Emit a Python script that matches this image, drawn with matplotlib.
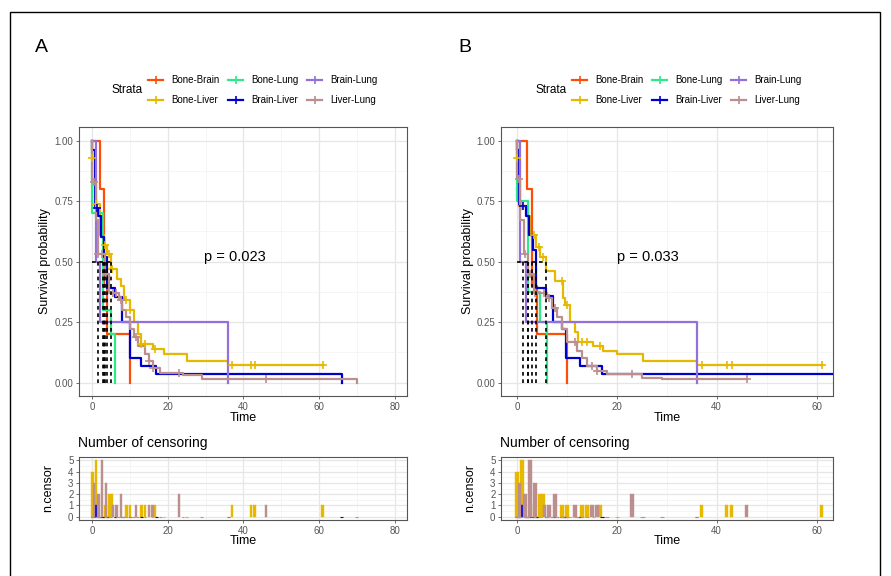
import matplotlib
matplotlib.use("Agg")
import matplotlib.pyplot as plt
from matplotlib.lines import Line2D
from matplotlib.patches import Rectangle
from matplotlib.ticker import MultipleLocator

plt.rcParams['font.family'] = ['Liberation Sans', 'DejaVu Sans']

W, H = 891, 576

strata = ["Bone-Brain", "Bone-Liver", "Bone-Lung", "Brain-Liver", "Brain-Lung", "Liver-Lung"]
colors = ["#FC4E07", "#E7B800", "#2EE88A", "#0000CD", "#9370DB", "#BC8F8F"]

# ---- panel A: KM step times and survival after each step ----
a_bone_brain_t = [2, 3, 4, 10]
a_bone_brain_s = [0.80, 0.40, 0.20, 0.00]
a_bone_liver_t = [0, 1, 2, 3, 4, 5, 6.5, 7.5, 8.5, 10, 11, 12, 13, 16, 19, 25, 36]
a_bone_liver_s = [0.93, 0.74, 0.61, 0.57, 0.53, 0.47, 0.43, 0.40, 0.34, 0.30, 0.25, 0.20,
                  0.16, 0.14, 0.12, 0.09, 0.075]
a_bone_lung_t = [0, 2.8, 5, 6]
a_bone_lung_s = [0.70, 0.30, 0.20, 0.00]
a_brain_liver_t = [0, 0.7, 1.5, 2.3, 3, 4, 6, 8, 10, 13, 17, 66]
a_brain_liver_s = [0.96, 0.72, 0.69, 0.60, 0.52, 0.39, 0.355, 0.25, 0.10, 0.07, 0.035, 0.00]
a_brain_lung_t = [1, 2, 36]
a_brain_lung_s = [0.50, 0.25, 0.00]
a_liver_lung_t = [0, 1, 1.5, 3.5, 4.5, 7, 8, 9, 10, 11, 12, 14, 15, 16, 18, 24, 29, 70]
a_liver_lung_s = [0.83, 0.67, 0.53, 0.45, 0.37, 0.34, 0.30, 0.27, 0.22, 0.19, 0.15, 0.12,
                  0.09, 0.06, 0.04, 0.03, 0.015, 0.00]
a_end = [10, 61, 6, 66, 36, 70]

# ---- panel B ----
b_bone_brain_t = [2, 3, 4, 10]
b_bone_brain_s = [0.80, 0.40, 0.20, 0.00]
b_bone_liver_t = [0, 0.6, 2.1, 2.6, 3.9, 4.6, 5.9, 7.6, 9.2, 9.6, 10.6, 11.6, 12.3, 15.3,
                  17.3, 20, 25.3, 36]
b_bone_liver_s = [0.93, 0.73, 0.69, 0.61, 0.56, 0.52, 0.46, 0.42, 0.35, 0.32, 0.25, 0.21,
                  0.17, 0.15, 0.13, 0.12, 0.09, 0.075]
b_bone_lung_t = [0, 2.3, 4.6, 6]
b_bone_lung_s = [0.75, 0.375, 0.25, 0.00]
b_brain_liver_t = [0, 0.4, 1.8, 2.5, 3.3, 3.9, 5.9, 7.2, 9, 9.8, 12.6, 17, 66]
b_brain_liver_s = [0.96, 0.73, 0.69, 0.61, 0.55, 0.39, 0.36, 0.25, 0.22, 0.10, 0.07, 0.035, 0.00]
b_brain_lung_t = [0.6, 1.8, 36]
b_brain_lung_s = [0.50, 0.25, 0.00]
b_liver_lung_t = [0, 0.6, 1.5, 2.2, 3.5, 6, 7, 8, 9, 10, 12, 13, 14, 16, 18, 25, 29]
b_liver_lung_s = [0.84, 0.67, 0.53, 0.45, 0.37, 0.35, 0.31, 0.27, 0.22, 0.17, 0.13, 0.10,
                  0.07, 0.05, 0.035, 0.02, 0.015]
b_end = [10, 61, 6, 66, 36, 46]

# ---- censoring times and counts (shared) ----
bone_liver_cens_t = [0, 1, 3.5, 4.5, 5.2, 9, 10, 13, 14, 16.6, 37, 42, 43, 61]
bone_liver_cens_n = [4, 5, 1, 2, 2, 1, 1, 1, 1, 1, 1, 1, 1, 1]
brain_liver_cens_t = [1.2]
brain_liver_cens_n = [1]
liver_lung_cens_t = [0.5, 1.6, 2.6, 3.6, 5.5, 6.4, 7.6, 11.6, 15, 16, 23, 46]
liver_lung_cens_n = [3, 2, 5, 3, 1, 1, 2, 1, 1, 1, 2, 1]

p_a = "p = 0.023"
p_b = "p = 0.033"


def fx(px):
    return px / W


def fy(py):
    return 1 - py / H


def s_at(ts, ss, t):
    v = 1.0
    for ti, si in zip(ts, ss):
        if ti <= t:
            v = si
    return v


def median_time(ts, ss):
    for i, (ti, si) in enumerate(zip(ts, ss)):
        if abs(si - 0.5) < 1e-9:
            return (ti + ts[i + 1]) / 2
        if si < 0.5:
            return ti
    return None


def style_axes(ax, xmax_tick):
    ax.set_facecolor("white")
    for sp in ax.spines.values():
        sp.set_color("#555555")
        sp.set_linewidth(0.8)
    ax.xaxis.set_major_locator(MultipleLocator(20))
    ax.xaxis.set_minor_locator(MultipleLocator(10))
    ax.grid(which="major", color="#E6E6E6", lw=0.9)
    ax.grid(which="minor", color="#F2F2F2", lw=0.5)
    ax.set_axisbelow(True)
    ax.tick_params(which="major", labelsize=7, colors="#555555", length=2.5, width=0.6, pad=1.5)
    ax.tick_params(which="minor", length=0)
    ax.set_xticks(range(0, xmax_tick + 1, 20))


cens = {1: (bone_liver_cens_t, bone_liver_cens_n),
        3: (brain_liver_cens_t, brain_liver_cens_n),
        5: (liver_lung_cens_t, liver_lung_cens_n)}

fig = plt.figure(figsize=(W / 100, H / 100), dpi=100)


def draw_panel(x0, letter, curves, ends, pval, xlim, xmax_tick, pval_x, left, right):
    ax = fig.add_axes([fx(left), fy(396), (right - left) / W, (396 - 127) / H])
    style_axes(ax, xmax_tick)
    ax.yaxis.set_major_locator(MultipleLocator(0.25))
    ax.yaxis.set_minor_locator(MultipleLocator(0.125))
    ax.set_yticks([0, 0.25, 0.5, 0.75, 1.0])
    ax.set_yticklabels(["0.00", "0.25", "0.50", "0.75", "1.00"])
    ax.set_xlim(*xlim)
    ax.set_ylim(-0.055, 1.056)

    meds = []
    for i, (ts, ss) in enumerate(curves):
        x = [0] + list(ts) + [ends[i]]
        y = [1.0] + list(ss) + [ss[-1]]
        ax.step(x, y, where="post", color=colors[i], lw=1.6, zorder=3)
        if i in cens:
            ct = [t for t in cens[i][0] if t <= ends[i]]
            ax.plot(ct, [s_at(ts, ss, t) for t in ct], ls="none", marker="+",
                    ms=6, mew=1.2, color=colors[i], zorder=4)
        m = median_time(ts, ss)
        if m is not None:
            meds.append(m)
    ax.plot([0, max(meds)], [0.5, 0.5], color="black", lw=1.2, dashes=(2.2, 2.2), zorder=5)
    for m in meds:
        ax.plot([m, m], [0, 0.5], color="black", lw=1.2, dashes=(2.2, 2.2), zorder=5)
    ax.text(pval_x, 0.52, pval, fontsize=10.5, va="center", ha="left")

    # censor counts
    cx = fig.add_axes([fx(left), fy(520), (right - left) / W, 63 / H])
    style_axes(cx, xmax_tick)
    cx.yaxis.set_major_locator(MultipleLocator(1))
    cx.yaxis.set_minor_locator(MultipleLocator(0.5))
    cx.set_xlim(*xlim)
    cx.set_ylim(-0.3, 5.3)
    for i, (ts, ss) in enumerate(curves):
        ct, cn = cens.get(i, ([], []))
        zero_t = [t for t in ts if t not in ct and t <= ends[i]]
        cx.bar(zero_t, [0] * len(zero_t), width=0.7, color=colors[i],
               edgecolor=colors[i], lw=0.8, zorder=3)
        cx.bar(ct, cn, width=0.7, color=colors[i], edgecolor=colors[i], lw=0.3, zorder=3)

    # text around the panel
    fig.text(fx(x0 + 41), fy(48), letter, fontsize=14, ha="center", va="center")
    fig.text(fx(left - 34 + (x0 > 0) * 1), fy(261), "Survival probability", fontsize=9,
             rotation=90, ha="center", va="center")
    fig.text(fx((left + right) / 2), fy(418), "Time", fontsize=9, ha="center", va="center")
    fig.text(fx(left - 1), fy(443), "Number of censoring", fontsize=10, ha="left", va="center")
    fig.text(fx(left - 31), fy(488), "n.censor", fontsize=9, rotation=90,
             ha="center", va="center")
    fig.text(fx((left + right) / 2), fy(541), "Time", fontsize=9, ha="center", va="center")

    # legend
    fig.text(fx(x0 + 111), fy(90), "Strata", fontsize=8.5, ha="left", va="center")
    cols = [148, 228, 307]
    rows = [80, 100]
    for i, name in enumerate(strata):
        lx = x0 + cols[i // 2]
        ly = rows[i % 2]
        fig.add_artist(Line2D([fx(lx), fx(lx + 15)], [fy(ly), fy(ly)], color=colors[i],
                              lw=1.6, transform=fig.transFigure))
        fig.add_artist(Line2D([fx(lx + 7.5)], [fy(ly)], marker="+", ms=6, mew=1.2,
                              color=colors[i], transform=fig.transFigure))
        fig.text(fx(lx + 23), fy(ly), name, fontsize=7, ha="left", va="center")


curves_a = [(a_bone_brain_t, a_bone_brain_s), (a_bone_liver_t, a_bone_liver_s),
            (a_bone_lung_t, a_bone_lung_s), (a_brain_liver_t, a_brain_liver_s),
            (a_brain_lung_t, a_brain_lung_s), (a_liver_lung_t, a_liver_lung_s)]
curves_b = [(b_bone_brain_t, b_bone_brain_s), (b_bone_liver_t, b_bone_liver_s),
            (b_bone_lung_t, b_bone_lung_s), (b_brain_liver_t, b_brain_liver_s),
            (b_brain_lung_t, b_brain_lung_s), (b_liver_lung_t, b_liver_lung_s)]

draw_panel(0, "A", curves_a, a_end, p_a, (-3.5, 83.3), 80, 29.7, 79, 407)
draw_panel(424, "B", curves_b, b_end, p_b, (-3.2, 63.3), 60, 20.0, 501, 833)

# outer frame
fig.add_artist(Rectangle((fx(10), fy(590)), (880 - 10) / W, (590 - 12) / H,
                         transform=fig.transFigure, fill=False, ec="black", lw=1.0))

fig.savefig("out.png", dpi=100)
